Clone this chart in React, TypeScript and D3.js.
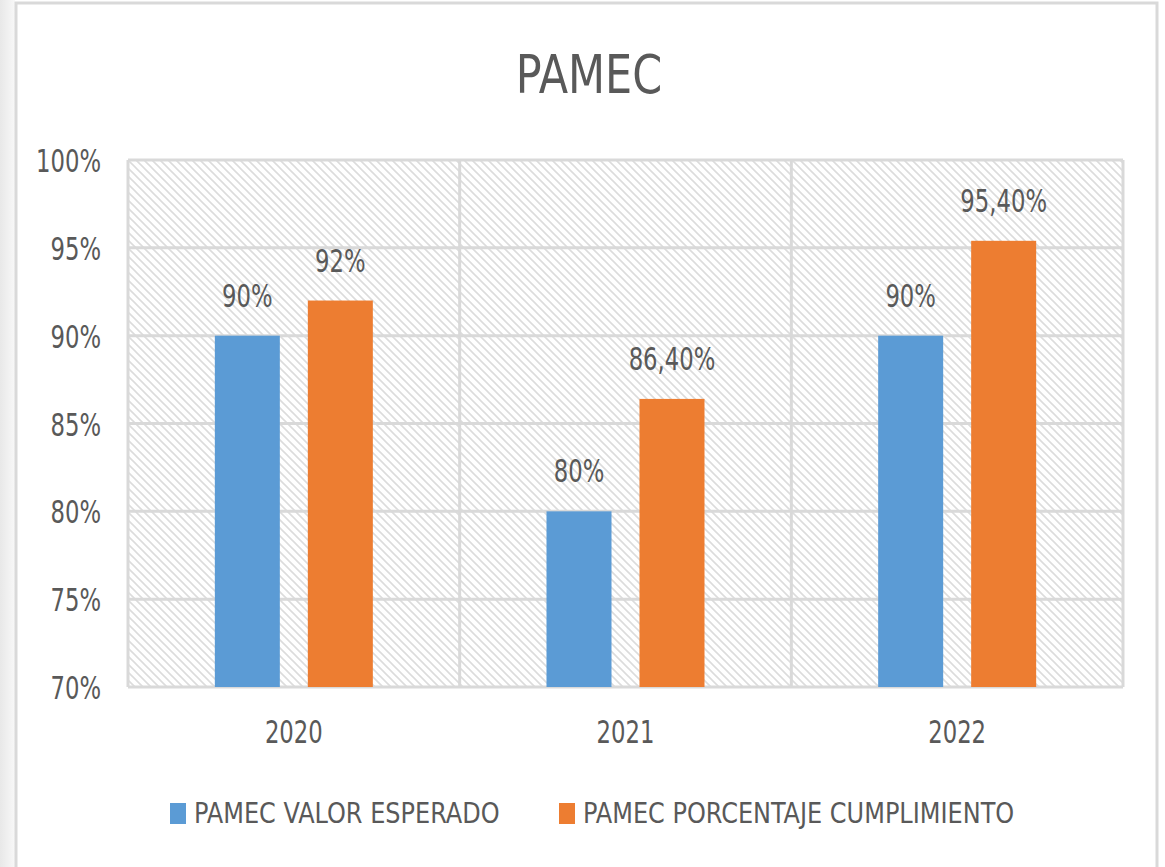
import React from "react";
import * as d3 from "d3";

const categories = ["2020", "2021", "2022"];
const seriesNames = ["PAMEC VALOR ESPERADO", "PAMEC PORCENTAJE CUMPLIMIENTO"];
const valorEsperado = [0.9, 0.8, 0.9];
const porcentajeCumplimiento = [0.92, 0.864, 0.954];
const labelsEsperado = ["90%", "80%", "90%"];
const labelsCumplimiento = ["92%", "86,40%", "95,40%"];
const yTicks = [0.7, 0.75, 0.8, 0.85, 0.9, 0.95, 1.0];
const yTickLabels = ["70%", "75%", "80%", "85%", "90%", "95%", "100%"];
const colors = ["#5b9bd5", "#ed7d31"];

const W = 1165;
const H = 867;
const plot = { left: 128, right: 1123, top: 160, bottom: 687 };
const FONT = "'Liberation Sans Narrow', 'DejaVu Sans Condensed', 'Liberation Sans', sans-serif";
const TEXT = "#595959";
const GRID = "#d9d9d9";

function T(props: { x: number; y: number; size: number; sx?: number; anchor?: string; children: React.ReactNode; fill?: string }) {
  const sx = props.sx ?? 0.92;
  return (
    <text
      transform={`translate(${props.x},${props.y}) scale(${sx},1)`}
      fontFamily={FONT}
      fontSize={props.size}
      textAnchor={props.anchor || "middle"}
      fill={props.fill || TEXT}
    >
      {props.children}
    </text>
  );
}

const NSX = 0.79;

export default function App() {
  const y = d3.scaleLinear().domain([0.7, 1.0]).range([plot.bottom, plot.top]);
  const x0 = d3.scaleBand<string>().domain(categories).range([plot.left, plot.right]).padding(0);
  const bw = x0.bandwidth();
  const groupW = 158;
  const x1 = d3
    .scaleBand<string>()
    .domain(seriesNames)
    .range([(bw - groupW) / 2, (bw + groupW) / 2])
    .paddingInner(0.301)
    .paddingOuter(0);
  const series = [
    { name: seriesNames[0], values: valorEsperado, labels: labelsEsperado, color: colors[0] },
    { name: seriesNames[1], values: porcentajeCumplimiento, labels: labelsCumplimiento, color: colors[1] },
  ];
  const boundaries = categories.map((c) => x0(c) as number).concat([plot.right]);

  return (
    <svg
      width={W}
      height={H}
      style={{ position: "absolute", left: 0, top: 0, background: "#ffffff" }}
    >
      <defs>
        <pattern id="hatch" patternUnits="userSpaceOnUse" width="8" height="8">
          <path d="M0,0 L8,8 M-2,6 L2,10 M6,-2 L10,2" stroke="#dcdcdc" strokeWidth="1.6" />
        </pattern>
        <linearGradient id="shadow" x1="0" y1="0" x2="1" y2="0">
          <stop offset="0" stopColor="#e8e8e8" />
          <stop offset="1" stopColor="#f8f8f8" />
        </linearGradient>
      </defs>
      <rect x={0} y={0} width={W} height={H} fill="#ffffff" />
      <rect x={0} y={0} width={15} height={H} fill="url(#shadow)" />
      <rect x={16} y={3} width={1141} height={H} fill="#ffffff" stroke={GRID} strokeWidth={3} />

      <T x={589} y={93} size={53} sx={0.9}>PAMEC</T>

      <rect
        x={plot.left}
        y={plot.top}
        width={plot.right - plot.left}
        height={plot.bottom - plot.top}
        fill="url(#hatch)"
      />
      {yTicks.map((t) => (
        <line key={t} x1={plot.left} x2={plot.right} y1={y(t)} y2={y(t)} stroke={GRID} strokeWidth={3} />
      ))}
      {boundaries.map((b, i) => (
        <line key={i} x1={b} x2={b} y1={plot.top} y2={plot.bottom} stroke={GRID} strokeWidth={3} />
      ))}

      {yTicks.map((t, i) => (
        <T key={t} x={101} y={y(t) + 12} size={32} sx={NSX} anchor="end">
          {yTickLabels[i]}
        </T>
      ))}

      {series.map((s) =>
        categories.map((c, i) => {
          const bx = (x0(c) as number) + (x1(s.name) as number);
          const by = y(s.values[i]);
          return (
            <g key={s.name + c}>
              <rect x={bx} y={by} width={x1.bandwidth()} height={plot.bottom - by} fill={s.color} />
              <T x={bx + x1.bandwidth() / 2} y={by - 29} size={32} sx={NSX}>
                {s.labels[i]}
              </T>
            </g>
          );
        })
      )}

      {categories.map((c) => (
        <T key={c} x={(x0(c) as number) + bw / 2} y={743} size={32} sx={NSX}>
          {c}
        </T>
      ))}

      <rect x={170} y={803} width={16} height={21} fill={colors[0]} />
      <T x={194} y={823} size={29} anchor="start">{seriesNames[0]}</T>
      <rect x={559} y={803} width={16} height={21} fill={colors[1]} />
      <T x={583} y={823} size={29} anchor="start">{seriesNames[1]}</T>
    </svg>
  );
}
